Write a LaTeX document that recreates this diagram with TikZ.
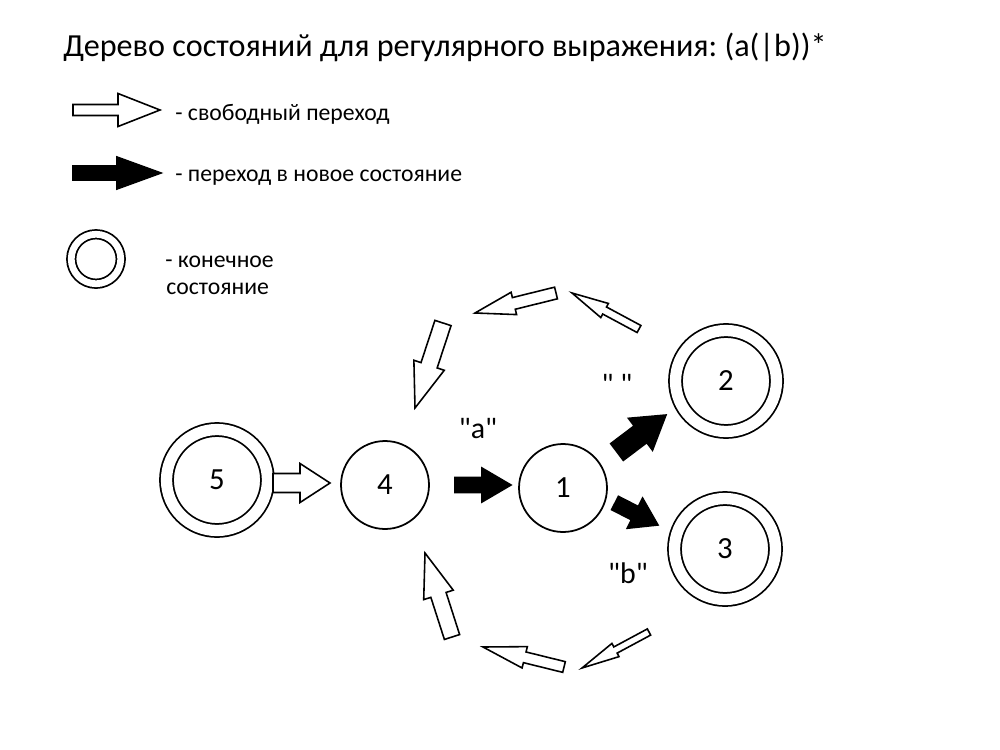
\documentclass[tikz,border=0pt]{standalone}
\usepackage{fontspec}
\setmainfont{Carlito}[Ligatures=TeXOff]
\frenchspacing
\usetikzlibrary{calc}
\newcommand\blockarr[6]{% #1 style, #2 tail, #3 tip, #4 body half, #5 head half, #6 head length
  \path ($(#3)!#6!(#2)$) coordinate (tmpH);
  \draw[#1] ($(#2)!#4!90:(#3)$) -- ($(tmpH)!#4!90:(#3)$) -- ($(tmpH)!#5!90:(#3)$) -- (#3)
    -- ($(tmpH)!#5!-90:(#3)$) -- ($(tmpH)!#4!-90:(#3)$) -- ($(#2)!#4!-90:(#3)$) -- cycle;
}
\tikzset{
  state/.style={circle, draw, line width=1pt, inner sep=0pt, minimum size=1.76cm, font=\fontsize{17.5}{20}\selectfont},
  final/.style={state, double, double distance=0.225cm, minimum size=2.02cm},
  legfinal/.style={circle, draw, line width=1pt, inner sep=0pt, double, double distance=0.135cm, minimum size=0.99cm},
  free/.style={draw, fill=white, line width=0.9pt, line join=miter},
  newst/.style={draw, fill=black, line width=0.9pt, line join=miter},
  title/.style={anchor=base west, inner sep=0pt, font=\fontsize{18.3}{22}\selectfont},
  legtext/.style={anchor=base west, inner sep=0pt, font=\fontsize{13.5}{16}\selectfont},
  lbl/.style={anchor=base, inner sep=0pt, font=\fontsize{17}{20}\selectfont},
}
\begin{document}
\begin{tikzpicture}[x=0.02cm, y=-0.02cm]
\useasboundingbox (0,0) rectangle (1000,750);
\node[title] (ttl) at (63,57) {Дерево состояний для регулярного выражения: (a(|b))*};
% legend
\coordinate (lwt) at (73,110); \coordinate (lwh) at (160,110);
\blockarr{free}{lwt}{lwh}{0.11cm}{0.33cm}{0.84cm}
\node[legtext] (l1) at (175,120) {- свободный переход};
\coordinate (lbt) at (73,173); \coordinate (lbh) at (161,173);
\blockarr{newst}{lbt}{lbh}{0.14cm}{0.32cm}{0.88cm}
\node[legtext] (l2) at (175,181) {- переход в новое состояние};
\node[legfinal] (lc) at (96,259) {};
\node[legtext] (l3) at (165,267) {- конечное};
\node[legtext] (l4) at (166,294) {состояние};
% states
\node[final] (s5) at (217,480) {5};
\node[state] (s4) at (385,485) {4};
\node[state] (s1) at (563,488) {1};
\node[final] (s2) at (726,381) {2};
\node[final] (s3) at (725,549) {3};
% transitions
\coordinate (t54) at (273,483); \coordinate (h54) at (330,483);
\blockarr{free}{t54}{h54}{0.19cm}{0.39cm}{0.6cm}
\coordinate (t41) at (455,485); \coordinate (h41) at (511,485);
\blockarr{newst}{t41}{h41}{0.15cm}{0.34cm}{0.58cm}
\coordinate (t12) at (617,452); \coordinate (h12) at (666,415);
\blockarr{newst}{t12}{h12}{0.21cm}{0.4cm}{0.64cm}
\coordinate (t13) at (615,503); \coordinate (h13) at (658,525);
\blockarr{newst}{t13}{h13}{0.15cm}{0.34cm}{0.52cm}
% loop back
\coordinate (tA) at (556,293); \coordinate (hA) at (475,313);
\blockarr{free}{tA}{hA}{0.12cm}{0.23cm}{0.8cm}
\coordinate (tB) at (639,329); \coordinate (hB) at (572,293);
\blockarr{free}{tB}{hB}{0.08cm}{0.16cm}{0.74cm}
\coordinate (tC) at (443,323); \coordinate (hC) at (415,408);
\blockarr{free}{tC}{hC}{0.17cm}{0.32cm}{0.9cm}
\coordinate (tD) at (649,632); \coordinate (hD) at (582,668);
\blockarr{free}{tD}{hD}{0.07cm}{0.15cm}{0.76cm}
\coordinate (tE) at (564,667); \coordinate (hE) at (483,647);
\blockarr{free}{tE}{hE}{0.11cm}{0.22cm}{0.86cm}
\coordinate (tF) at (452,637); \coordinate (hF) at (425,553);
\blockarr{free}{tF}{hF}{0.16cm}{0.31cm}{0.88cm}
% labels
\node[lbl] (la) at (478,438) {"a"};
\node[lbl] (le) at (617,394) {" "};
\node[lbl] (lb) at (628,583) {"b"};
\end{tikzpicture}
\end{document}
